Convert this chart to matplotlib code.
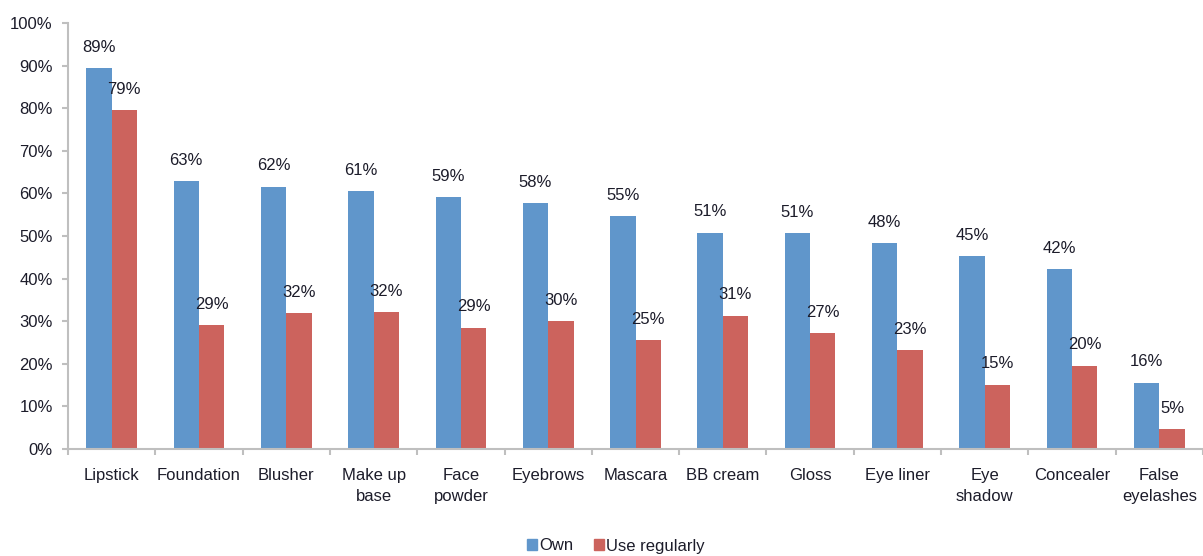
import matplotlib
matplotlib.use("Agg")
import matplotlib.pyplot as plt
from matplotlib.patches import Patch
import numpy as np

categories = ["Lipstick", "Foundation", "Blusher", "Make up\nbase", "Face\npowder",
              "Eyebrows", "Mascara", "BB cream", "Gloss", "Eye liner", "Eye\nshadow",
              "Concealer", "False\neyelashes"]
# bar heights (%)
own = [89.5, 62.9, 61.6, 60.6, 59.2, 57.7, 54.7, 50.8, 50.6, 48.3, 45.2, 42.3, 15.6]
use_regularly = [79.5, 29.1, 31.9, 32.1, 28.5, 30.1, 25.5, 31.3, 27.3, 23.2, 15.1, 19.6, 4.6]
# data labels as printed
own_labels = [89, 63, 62, 61, 59, 58, 55, 51, 51, 48, 45, 42, 16]
use_labels = [79, 29, 32, 32, 29, 30, 25, 31, 27, 23, 15, 20, 5]
series_names = ["Own", "Use regularly"]
y_ticks = list(range(0, 101, 10))

BLUE = "#6096CB"
RED = "#CC635D"
TEXT = "#1c1c2a"
AXIS = "#BFBFBF"

plt.rcParams['font.family'] = ['Liberation Sans', 'DejaVu Sans']

fig = plt.figure(figsize=(12.03, 5.56), dpi=100)
ax = fig.add_axes([68/1203, 1-449/556, 1-68/1203, (449-23)/556])

x = np.arange(len(categories))
w = 0.29
b1 = ax.bar(x - w/2, own, width=w, color=BLUE)
b2 = ax.bar(x + w/2, use_regularly, width=w, color=RED)

for bars, labels in ((b1, own_labels), (b2, use_labels)):
    for rect, v in zip(bars, labels):
        ax.annotate(f"{v}%", (rect.get_x() + rect.get_width()/2, rect.get_height()),
                    xytext=(0, 9.5), textcoords="offset points",
                    ha="center", va="bottom", fontsize=12, color=TEXT)

ax.set_xlim(-0.5, len(categories) - 0.5)
ax.set_ylim(0, 100)
ax.set_yticks(y_ticks)
ax.set_yticklabels([f"{t}%" for t in y_ticks])
ax.set_xticks(x)
ax.set_xticklabels(categories, linespacing=1.5)
ax.set_xticks(np.arange(len(categories) + 1) - 0.5, minor=True)

for s in ("top", "right"):
    ax.spines[s].set_visible(False)
for s in ("left", "bottom"):
    ax.spines[s].set_color(AXIS)
    ax.spines[s].set_linewidth(1.5)

ax.tick_params(axis="y", which="major", length=4, width=1.5, color=AXIS,
               labelsize=12, labelcolor=TEXT, pad=7)
ax.tick_params(axis="x", which="major", length=0, labelsize=12, labelcolor=TEXT, pad=13.5)
ax.tick_params(axis="x", which="minor", length=4, width=1.5, color=AXIS)

handles = [Patch(color=BLUE), Patch(color=RED)]
fig.legend(handles, series_names, loc="center", ncol=2,
           bbox_to_anchor=(616/1203, 1-546/556), frameon=False, fontsize=12,
           handlelength=0.6, handleheight=0.6, handletextpad=0.15,
           columnspacing=1.2, labelcolor=TEXT)

fig.savefig("out.png", dpi=100)
